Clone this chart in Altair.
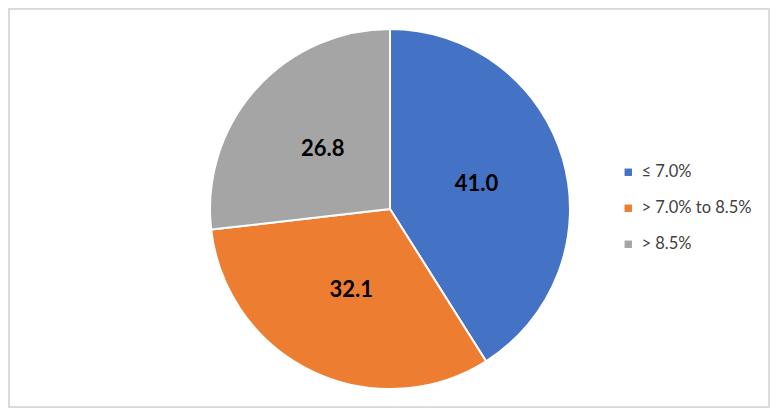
import altair as alt
import pandas as pd

categories = ["≤ 7.0%", "> 7.0% to 8.5%", "> 8.5%"]
values = [41.0, 32.1, 26.8]
labels = ["41.0", "32.1", "26.8"]
colors = ["#4472C4", "#ED7D31", "#A5A5A5"]

df = pd.DataFrame({"cat": categories, "val": values, "lab": labels, "idx": [0, 1, 2]})

W, H = 762, 400
CX, CY = 382, 201

base = alt.Chart(df).encode(
    theta=alt.Theta("val:Q", stack=True),
    order=alt.Order("idx:Q"),
)

pie = base.mark_arc(outerRadius=180, stroke="white", strokeWidth=2).encode(
    x=alt.value(CX),
    y=alt.value(CY),
    color=alt.Color(
        "cat:N",
        scale=alt.Scale(domain=categories, range=colors),
        legend=alt.Legend(
            title=None,
            orient="none",
            legendX=612,
            legendY=156,
            symbolType="square",
            symbolSize=55,
            symbolStrokeWidth=0,
            labelFont="Lato",
            labelFontSize=16.5,
            labelColor="#404040",
            rowPadding=19,
            labelOffset=5,
        ),
    ),
)

text = base.mark_text(
    radius=90, font="Lato", fontSize=22, fontWeight="bold", color="black"
).encode(
    x=alt.value(CX),
    y=alt.value(CY),
    text="lab:N",
)

border = alt.Chart(df).mark_rect(
    fill=None, stroke="#D9D9D9", strokeWidth=1.5
).encode(
    x=alt.value(0.75), x2=alt.value(W - 0.75),
    y=alt.value(0.75), y2=alt.value(H - 0.75),
)

chart = alt.layer(border, pie, text).properties(
    width=W, height=H, padding=0, autosize=alt.AutoSizeParams(type="none")
).configure_view(stroke=None).configure(background="white")

chart.save("out.html", embed_options={"renderer": "svg", "actions": False})
